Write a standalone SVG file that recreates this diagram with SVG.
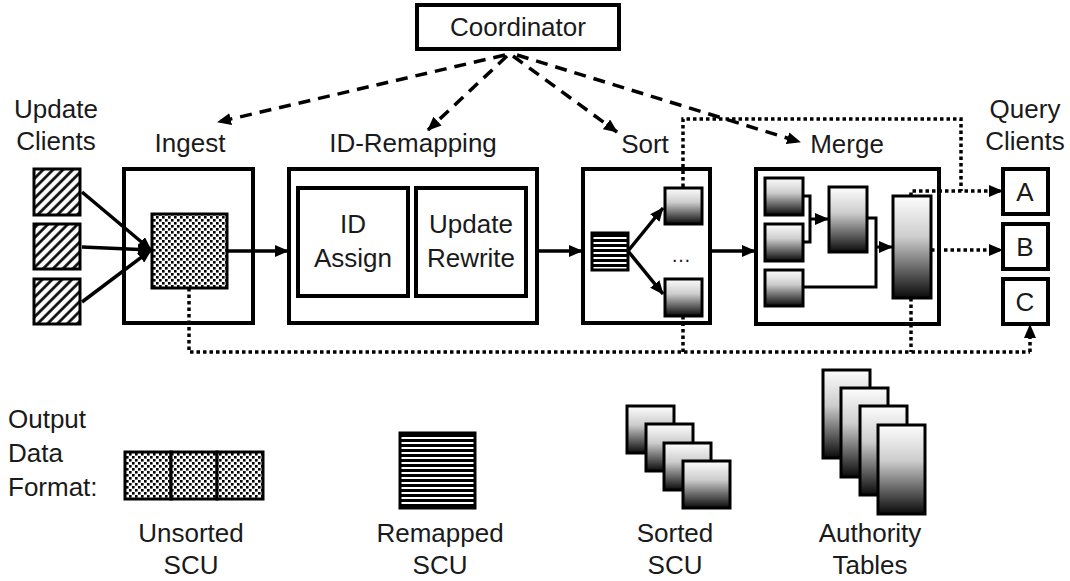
<svg xmlns="http://www.w3.org/2000/svg" width="1070" height="581" viewBox="0 0 1070 581">
<style>
text{font-family:"Liberation Sans",Arial,sans-serif;font-size:26px;fill:#1a1a1a;text-anchor:middle}
.box{fill:#fff;stroke:#000;stroke-width:4}
.ibox{fill:#fff;stroke:#000;stroke-width:4}
.grad{fill:url(#g);stroke:#000;stroke-width:3}
.hatch{fill:url(#hatch);stroke:#000;stroke-width:3}
.dots{fill:url(#dots);stroke:#000;stroke-width:3}
.stripes{fill:url(#stripes);stroke:#000;stroke-width:3}
.solid{fill:none;stroke:#000;stroke-width:3.5}
.arr{marker-end:url(#ah)}
.dash{fill:none;stroke:#000;stroke-width:3.5;stroke-dasharray:12 8}
.dot{fill:none;stroke:#000;stroke-width:3.5;stroke-dasharray:3.5 3}
.thin{fill:none;stroke:#000;stroke-width:3}
</style>
<defs>
<marker id="ah" markerUnits="userSpaceOnUse" markerWidth="14" markerHeight="12" refX="13" refY="6" orient="auto"><path d="M0,0 L14,6 L0,12 Z" fill="#000"/></marker>
<linearGradient id="g" x1="0" y1="0" x2="0" y2="1"><stop offset="0" stop-color="#fdfdfd"/><stop offset="0.4" stop-color="#cdcdcd"/><stop offset="1" stop-color="#0a0a0a"/></linearGradient>
<pattern id="hatch" patternUnits="userSpaceOnUse" width="7" height="7" patternTransform="rotate(45)"><rect width="7" height="7" fill="#fff"/><line x1="3.5" y1="0" x2="3.5" y2="7" stroke="#000" stroke-width="2.6"/></pattern>
<pattern id="dots" patternUnits="userSpaceOnUse" width="6" height="6"><rect width="6" height="6" fill="#fff"/><rect x="0" y="0" width="2.6" height="2.6" fill="#000"/><rect x="3" y="3" width="2.6" height="2.6" fill="#000"/></pattern>
<pattern id="stripes" patternUnits="userSpaceOnUse" width="10" height="5"><rect width="10" height="5" fill="#000"/><rect y="2" width="10" height="2" fill="#fff"/></pattern>
</defs>
<rect width="1070" height="581" fill="#fff"/>

<g id="coordinator"><rect class="box" x="417" y="5" width="202" height="44" stroke-width="3"/><text x="518" y="36">Coordinator</text></g>

<g id="update-clients">
<text x="56" y="118">Update</text><text x="56" y="150">Clients</text>
<rect class="hatch" x="34" y="169" width="46" height="46"/>
<rect class="hatch" x="34" y="224" width="46" height="45"/>
<rect class="hatch" x="34" y="279" width="46" height="45"/>
</g>

<g id="ingest">
<text x="190" y="152">Ingest</text>
<rect class="box" x="124" y="169" width="129" height="154"/>
<rect class="dots" x="152" y="214" width="75" height="74"/>
</g>

<g id="id-remapping">
<text x="413" y="152">ID-Remapping</text>
<rect class="box" x="289" y="169" width="248" height="154"/>
<rect class="ibox" x="298" y="188" width="110" height="108"/>
<text x="353" y="233">ID</text><text x="353" y="267">Assign</text>
<rect class="ibox" x="416" y="188" width="110" height="108"/>
<text x="471" y="233">Update</text><text x="471" y="267">Rewrite</text>
</g>

<g id="sort">
<text x="645" y="153">Sort</text>
<rect class="box" x="583" y="169" width="127" height="154"/>
<rect class="stripes" x="592" y="233" width="36" height="37"/>
<rect class="grad" x="665" y="188" width="37" height="36"/>
<rect class="grad" x="665" y="279" width="37" height="37"/>
<text x="681" y="262" style="font-size:20px">…</text>
</g>

<g id="merge">
<text x="847" y="153">Merge</text>
<rect class="box" x="756" y="169" width="183" height="155"/>
<rect class="grad" x="765" y="178" width="38" height="37"/>
<rect class="grad" x="765" y="224" width="38" height="37"/>
<rect class="grad" x="765" y="270" width="38" height="36"/>
<rect class="grad" x="829" y="187" width="38" height="65"/>
<rect class="grad" x="893" y="196" width="38" height="102"/>
</g>

<g id="query-clients">
<text x="1025" y="118">Query</text><text x="1025" y="150">Clients</text>
<rect class="box" x="1003" y="169" width="45" height="45" stroke-width="3"/><text x="1025" y="201">A</text>
<rect class="box" x="1003" y="224" width="45" height="45" stroke-width="3"/><text x="1025" y="256">B</text>
<rect class="box" x="1003" y="279" width="45" height="45" stroke-width="3"/><text x="1025" y="311">C</text>
</g>

<g id="connectors">
<path class="dash arr" d="M505,55 L218,122"/>
<path class="dash arr" d="M507,56 L428,130"/>
<path class="dash arr" d="M513,56 L617,132"/>
<path class="dash arr" d="M517,55 L800,142"/>

<path class="solid arr" d="M82,192 L151,250"/>
<path class="solid arr" d="M82,247 L151,250"/>
<path class="solid arr" d="M82,302 L151,250"/>
<path class="solid arr" d="M227,251 L288,251"/>
<path class="solid arr" d="M537,251 L582,251"/>
<path class="solid arr" d="M628,251 L663,208"/>
<path class="solid arr" d="M628,251 L663,294"/>
<path class="solid arr" d="M710,251 L755,251"/>
<path class="thin" d="M803,196 H810 V242 H803"/>
<path class="thin arr" d="M810,219 H828"/>
<path class="thin" d="M867,218 H876 V287 H803"/>
<path class="thin arr" d="M876,247 H892"/>

<path class="dot" d="M683,187 V119 H961 V191"/>
<path class="dot arr" d="M911,196 V191 H1002"/>
<path class="dot arr" d="M931,250 H1002"/>
<path class="dot" d="M189,288 V352 H1030"/>
<path class="dot arr" d="M1030,352 V325"/>
<path class="dot" d="M683,316 V352"/>
<path class="dot" d="M911,298 V352"/>
</g>

<g id="legend">
<text x="8" y="428" style="text-anchor:start">Output</text>
<text x="8" y="462" style="text-anchor:start">Data</text>
<text x="8" y="496" style="text-anchor:start">Format:</text>
<rect class="dots" x="125" y="452" width="46" height="47"/>
<rect class="dots" x="171" y="452" width="46" height="47"/>
<rect class="dots" x="217" y="452" width="46" height="47"/>
<text x="191" y="542">Unsorted</text><text x="191" y="574">SCU</text>

<rect class="stripes" x="400" y="433" width="75" height="75"/>
<text x="440" y="542">Remapped</text><text x="440" y="574">SCU</text>

<rect class="grad" x="627" y="406" width="47" height="47"/>
<rect class="grad" x="646" y="424" width="47" height="47"/>
<rect class="grad" x="664" y="443" width="47" height="47"/>
<rect class="grad" x="683" y="461" width="47" height="47"/>
<text x="675" y="542">Sorted</text><text x="675" y="574">SCU</text>

<rect class="grad" x="823" y="370" width="47" height="88"/>
<rect class="grad" x="841" y="388" width="47" height="89"/>
<rect class="grad" x="860" y="406" width="47" height="89"/>
<rect class="grad" x="878" y="425" width="47" height="89"/>
<text x="870" y="542">Authority</text><text x="870" y="574">Tables</text>
</g>
</svg>
